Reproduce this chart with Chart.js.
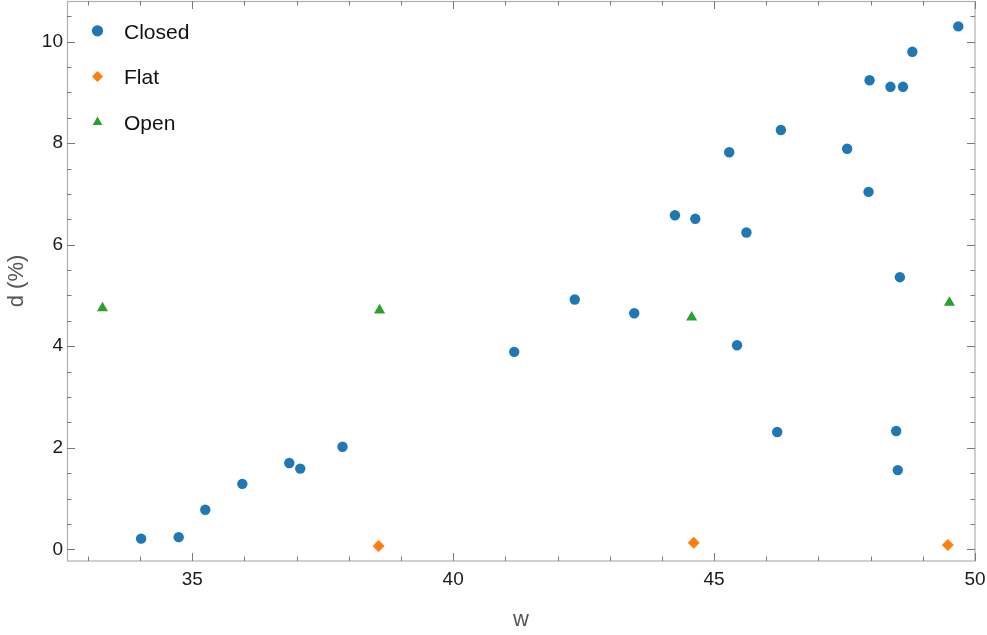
<!DOCTYPE html>
<html>
<head>
<meta charset="utf-8">
<title>d vs w</title>
<script src="https://cdn.jsdelivr.net/npm/chart.js@4.4.0/dist/chart.umd.min.js"></script>
<style>
  html, body { margin: 0; padding: 0; background: #fff; }
  canvas { display: block; }
</style>
</head>
<body>
<canvas id="chart" width="987" height="635"></canvas>
<script>
// values
const wClosed = [34.02, 34.74, 35.25, 35.96, 36.86, 37.07, 37.88, 41.17, 42.33, 43.47, 44.25, 44.64, 45.29, 45.44,
  45.62, 46.21, 46.28, 47.55, 47.96, 47.98, 48.38, 48.49, 48.52, 48.56, 48.62, 48.80, 49.68];
const dClosed = [0.21, 0.24, 0.78, 1.29, 1.70, 1.59, 2.02, 3.89, 4.92, 4.65, 6.58, 6.51, 7.82, 4.02,
  6.24, 2.31, 8.26, 7.89, 7.04, 9.24, 9.11, 2.33, 1.56, 5.36, 9.11, 9.80, 10.30];

const wFlat = [38.57, 44.61, 49.48];
const dFlat = [0.065, 0.13, 0.085];

const wOpen = [33.28, 38.59, 44.57, 49.51];
const dOpen = [4.75, 4.71, 4.57, 4.86];

const xTicks = [35, 40, 45, 50];
const yTicks = [0, 2, 4, 6, 8, 10];

const seriesNames = ["Closed", "Flat", "Open"];
const seriesColors = ["#1f77b4", "#ff7f0e", "#2ca02c"];

const FONT = "'Liberation Sans', Arial, Helvetica, sans-serif";

function toPoints(xs, ys) {
  return xs.map((x, i) => ({ x: x, y: ys[i] }));
}

// Mathematica-style frame: grey box with inward ticks on all four sides
const framePlugin = {
  id: "frame",
  afterDraw(chart) {
    const { ctx, chartArea: a, scales } = chart;
    const xs = scales.x, ys = scales.y;
    ctx.save();
    ctx.strokeStyle = "#b0b0b0";
    ctx.lineWidth = 1.2;
    ctx.strokeRect(a.left + 0.5, a.top + 0.5, a.right - a.left - 0.5, a.bottom - a.top - 0.5);

    ctx.strokeStyle = "#7a7a7a";
    ctx.lineWidth = 1;
    ctx.beginPath();
    for (let v = 33; v <= 50; v++) {
      const len = xTicks.includes(v) ? 8 : 4.5;
      const px = Math.round(xs.getPixelForValue(v)) + 0.5;
      ctx.moveTo(px, a.bottom); ctx.lineTo(px, a.bottom - len);
      ctx.moveTo(px, a.top); ctx.lineTo(px, a.top + len);
    }
    for (let k = 0; k <= 21; k++) {
      const v = k / 2;
      const len = yTicks.includes(v) ? 8 : 4.5;
      const py = Math.round(ys.getPixelForValue(v)) + 0.5;
      ctx.moveTo(a.left, py); ctx.lineTo(a.left + len, py);
      ctx.moveTo(a.right, py); ctx.lineTo(a.right - len, py);
    }
    ctx.stroke();
    ctx.restore();
  }
};

// legend drawn inside the plot, top-left, one entry per row
const legendPlugin = {
  id: "insideLegend",
  afterDraw(chart) {
    const { ctx } = chart;
    ctx.save();
    ctx.font = "21px " + FONT;
    ctx.textBaseline = "middle";
    ctx.textAlign = "left";
    chart.data.datasets.forEach((ds, i) => {
      const rowY = 33 + i * 45.7;
      ctx.fillStyle = ds.backgroundColor;
      Chart.helpers.drawPoint(ctx, {
        pointStyle: ds.pointStyle, radius: 5.6, rotation: 0, borderWidth: 0
      }, 97.5, rowY - 2.2);
      ctx.fillStyle = "#111";
      ctx.fillText(ds.label, 124, rowY);
    });
    ctx.restore();
  }
};

new Chart(document.getElementById("chart"), {
  type: "scatter",
  data: {
    datasets: [
      {
        label: seriesNames[0], data: toPoints(wClosed, dClosed),
        pointStyle: "circle", pointRadius: 5.2, borderWidth: 0,
        backgroundColor: seriesColors[0], borderColor: seriesColors[0]
      },
      {
        label: seriesNames[1], data: toPoints(wFlat, dFlat),
        pointStyle: "rectRot", pointRadius: 6, borderWidth: 0,
        backgroundColor: seriesColors[1], borderColor: seriesColors[1]
      },
      {
        label: seriesNames[2], data: toPoints(wOpen, dOpen),
        pointStyle: "triangle", pointRadius: 6.4, borderWidth: 0,
        backgroundColor: seriesColors[2], borderColor: seriesColors[2]
      }
    ]
  },
  options: {
    responsive: false,
    animation: false,
    devicePixelRatio: 1,
    layout: { autoPadding: false, padding: { top: 1, right: 12, left: 0, bottom: 0 } },
    plugins: {
      legend: { display: false },
      tooltip: { enabled: false }
    },
    scales: {
      x: {
        type: "linear",
        min: 32.6,
        max: 50,
        grid: { display: false, drawTicks: false },
        border: { display: false },
        ticks: {
          autoSkip: false, maxRotation: 0, padding: 7, color: "#1a1a1a",
          font: { family: FONT, size: 19 }
        },
        afterBuildTicks: s => { s.ticks = xTicks.map(v => ({ value: v })); },
        afterFit: s => { s.height = 74; s.paddingLeft = 0; s.paddingRight = 0; },
        title: {
          display: true, text: "w", color: "#555",
          font: { family: FONT, size: 22 }, padding: { top: 0, bottom: 2 }
        }
      },
      y: {
        type: "linear",
        min: -0.23,
        max: 10.8,
        grid: { display: false, drawTicks: false },
        border: { display: false },
        ticks: {
          autoSkip: false, padding: 4, color: "#1a1a1a",
          font: { family: FONT, size: 19 }
        },
        afterBuildTicks: s => { s.ticks = yTicks.map(v => ({ value: v })); },
        afterFit: s => { s.width = 67; s.paddingTop = 0; s.paddingBottom = 0; },
        title: {
          display: true, text: "d (%)", color: "#555",
          font: { family: FONT, size: 22 }, padding: { top: 4, bottom: 0 }
        }
      }
    }
  },
  plugins: [framePlugin, legendPlugin]
});
</script>
</body>
</html>
